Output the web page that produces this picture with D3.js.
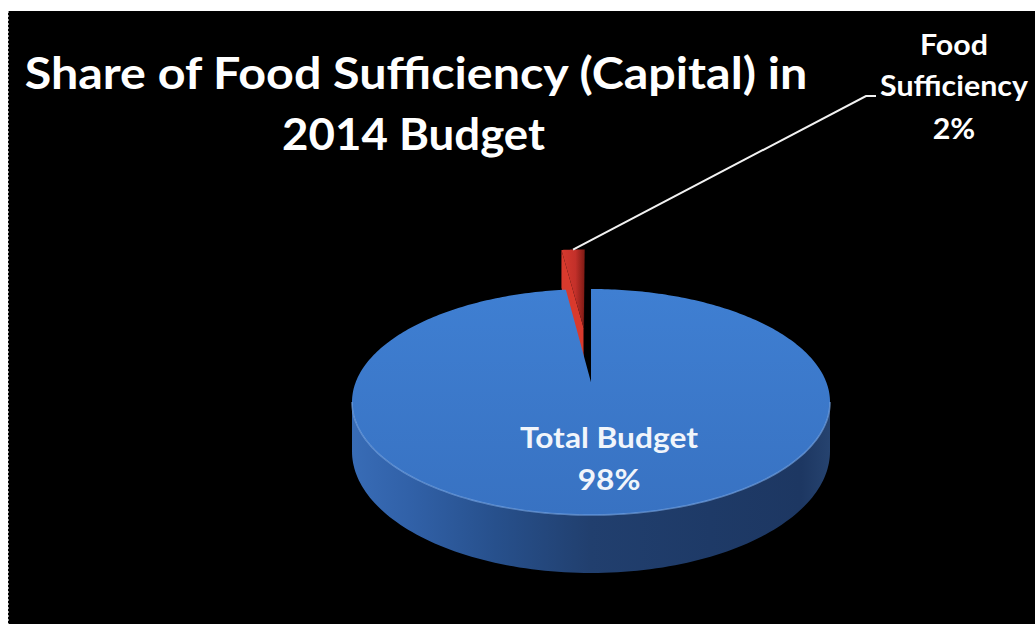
<!DOCTYPE html>
<html>
<head>
<meta charset="utf-8">
<script src="https://cdn.jsdelivr.net/npm/d3@7"></script>
<style>
  html, body { margin: 0; padding: 0; background: #fff; }
  svg { display: block; }
  text { font-family: Lato, "Open Sans", "DejaVu Sans", sans-serif; font-weight: 700; }
</style>
</head>
<body>
<script>
// ---- data ----
const categories = ["Total Budget", "Food Sufficiency"];
const shares = [98, 2];
const explodeFraction = [0, 0.54];          // pulled-out distance, as a fraction of the radius
const titleLines = ["Share of Food Sufficiency (Capital) in", "2014 Budget"];

const W = 1035, H = 624;
const svg = d3.select("body").append("svg").attr("width", W).attr("height", H);

// ---- page frame ----
svg.append("rect").attr("width", W).attr("height", H).attr("fill", "#fff");
svg.append("rect").attr("x", 8).attr("y", 11).attr("width", W - 8).attr("height", H - 11).attr("fill", "#000");
svg.append("line").attr("x1", 8.5).attr("x2", 8.5).attr("y1", 11).attr("y2", H)
  .attr("stroke", "#9a9a9a").attr("stroke-width", 1).attr("stroke-dasharray", "2,2");

// ---- gradients ----
const defs = svg.append("defs");
const wallGrad = defs.append("linearGradient").attr("id", "wall").attr("x1", 0).attr("x2", 1).attr("y1", 0).attr("y2", 0);
[[0, "#386cb6"], [0.12, "#3161a8"], [0.3, "#27508c"], [0.5, "#213f6e"], [0.75, "#1e3a67"], [0.94, "#1d3762"], [1, "#26436f"]]
  .forEach(([o, c]) => wallGrad.append("stop").attr("offset", o).attr("stop-color", c));
const topGrad = defs.append("linearGradient").attr("id", "topface").attr("x1", 0).attr("x2", 0).attr("y1", 0).attr("y2", 1);
[[0, "#3f7fd2"], [1, "#3872c2"]].forEach(([o, c]) => topGrad.append("stop").attr("offset", o).attr("stop-color", c));
const redGrad = defs.append("linearGradient").attr("id", "redtop").attr("x1", 0).attr("x2", 1).attr("y1", 0).attr("y2", 0);
[[0, "#d83a2e"], [0.6, "#c3302a"], [1, "#7d1a14"]].forEach(([o, c]) => redGrad.append("stop").attr("offset", o).attr("stop-color", c));

// ---- 3D pie projection ----
const cx = 591, cy = 402, rx = 239, ry = 113, depth = 58, persp = 0.175;
const kx = Math.sqrt(1 - persp * persp);
// u: left/right on the disc, v: towards the back of the disc (unit radius)
function project(u, v) {
  const d = 1 + persp * v;
  return [cx + rx * kx * u / d, cy - ry * (v + persp) / d];
}
function depthAt(v) { return depth * (1 - persp) / (1 + persp * v); }
function point3(a, r, off) {
  const u = r * Math.sin(a) + off[0], v = r * Math.cos(a) + off[1];
  const p = project(u, v);
  return { top: p, bottom: [p[0], p[1] + depthAt(v)] };
}
function rim(a0, a1, off, n = 120) {
  return d3.range(n + 1).map(i => point3(a0 + (a1 - a0) * i / n, 1, off));
}

const total = d3.sum(shares);
const pct = d3.format(".0%");
const arcs = d3.pie().sort(null).value(d => d)(shares)
  .map((d, i) => {
    const mid = (d.startAngle + d.endAngle) / 2, e = explodeFraction[i];
    return { ...d, name: categories[i], mid, off: [e * Math.sin(mid), e * Math.cos(mid)] };
  });

const line = d3.line();
const g = svg.append("g");

// exploded slice sits behind the main body: draw it first
const small = arcs[1];
{
  const apex = point3(0, 0, small.off);
  const r0 = point3(small.startAngle, 1, small.off);
  const r1 = point3(small.endAngle, 1, small.off);
  // radial cut faces
  g.append("path").attr("d", line([apex.top, r0.top, r0.bottom, apex.bottom]) + "Z").attr("fill", "#d93a2d");
  g.append("path").attr("d", line([apex.top, r1.top, r1.bottom, apex.bottom]) + "Z").attr("fill", "#1c0604");
  // top face
  const pts = [apex.top, ...rim(small.startAngle, small.endAngle, small.off, 20).map(p => p.top)];
  g.append("path").attr("d", line(pts) + "Z").attr("fill", "url(#redtop)");
}

// main body
const big = arcs[0];
{
  const aL = Math.acos(-persp), aR = 2 * Math.PI - Math.acos(-persp);
  const front = rim(aL, aR, big.off);
  const wall = [...front.map(p => p.top), ...front.slice().reverse().map(p => p.bottom)];
  g.append("path").attr("d", line(wall) + "Z").attr("fill", "url(#wall)");

  const apex = point3(0, 0, big.off);
  const face = [apex.top, ...rim(big.startAngle, big.endAngle, big.off, 360).map(p => p.top)];
  g.append("path").attr("d", line(face) + "Z").attr("fill", "url(#topface)");

  // soft highlight along the front edge of the top face
  g.append("path").attr("d", line(front.map(p => p.top))).attr("fill", "none")
    .attr("stroke", "#76a6e6").attr("stroke-width", 1.6).attr("stroke-opacity", 0.65);
}

// ---- labels ----
function fitWidth(sel, target) {
  sel.each(function () {
    const t = d3.select(this);
    t.attr("transform", null);
    const w = this.getComputedTextLength();
    if (!w) return;
    const s = target / w, x = +t.attr("x");
    t.attr("transform", `translate(${x},0) scale(${s},1) translate(${-x},0)`);
  });
}

const title = svg.append("g").attr("fill", "#fff").attr("text-anchor", "middle").attr("font-size", 43);
const titleSpecs = [{ y: 89, w: 783, x: 416 }, { y: 150, w: 263, x: 413.5 }];
const titleTexts = titleLines.map((t, i) =>
  title.append("text").attr("x", titleSpecs[i].x).attr("y", titleSpecs[i].y).text(t));

// leader line from the pulled-out slice to its label
const leadStart = point3(small.mid, 1, small.off).top;
svg.append("path").attr("d", line([leadStart, [866, 96], [876, 96]]))
  .attr("fill", "none").attr("stroke", "#f2f2f2").attr("stroke-width", 2);

const smallLabel = svg.append("g").attr("fill", "#fff").attr("text-anchor", "middle").attr("font-size", 28);
const smallLines = [...small.name.split(" "), pct(small.value / total)];
const smallTexts = smallLines.map((t, i) =>
  smallLabel.append("text").attr("x", 954).attr("y", [55, 96, 139][i]).text(t));

const bigLabel = svg.append("g").attr("fill", "#f1f5fb").attr("text-anchor", "middle").attr("font-size", 28);
const bigLines = [big.name, pct(big.value / total)];
const bigTexts = bigLines.map((t, i) =>
  bigLabel.append("text").attr("x", 609).attr("y", [448, 490][i]).text(t));

function fitAll() {
  titleTexts.forEach((t, i) => fitWidth(t, titleSpecs[i].w));
  // one horizontal scale per label block, taken from its widest line
  const blockScale = (texts, widest, target) => {
    texts.forEach(t => t.attr("transform", null));
    const s = target / texts[widest].node().getComputedTextLength();
    texts.forEach(t => {
      const x = +t.attr("x");
      t.attr("transform", `translate(${x},0) scale(${s},1) translate(${-x},0)`);
    });
  };
  blockScale(smallTexts, 1, 148);
  blockScale(bigTexts, 0, 178);
}
fitAll();
if (document.fonts && document.fonts.ready) document.fonts.ready.then(fitAll);
</script>
</body>
</html>
